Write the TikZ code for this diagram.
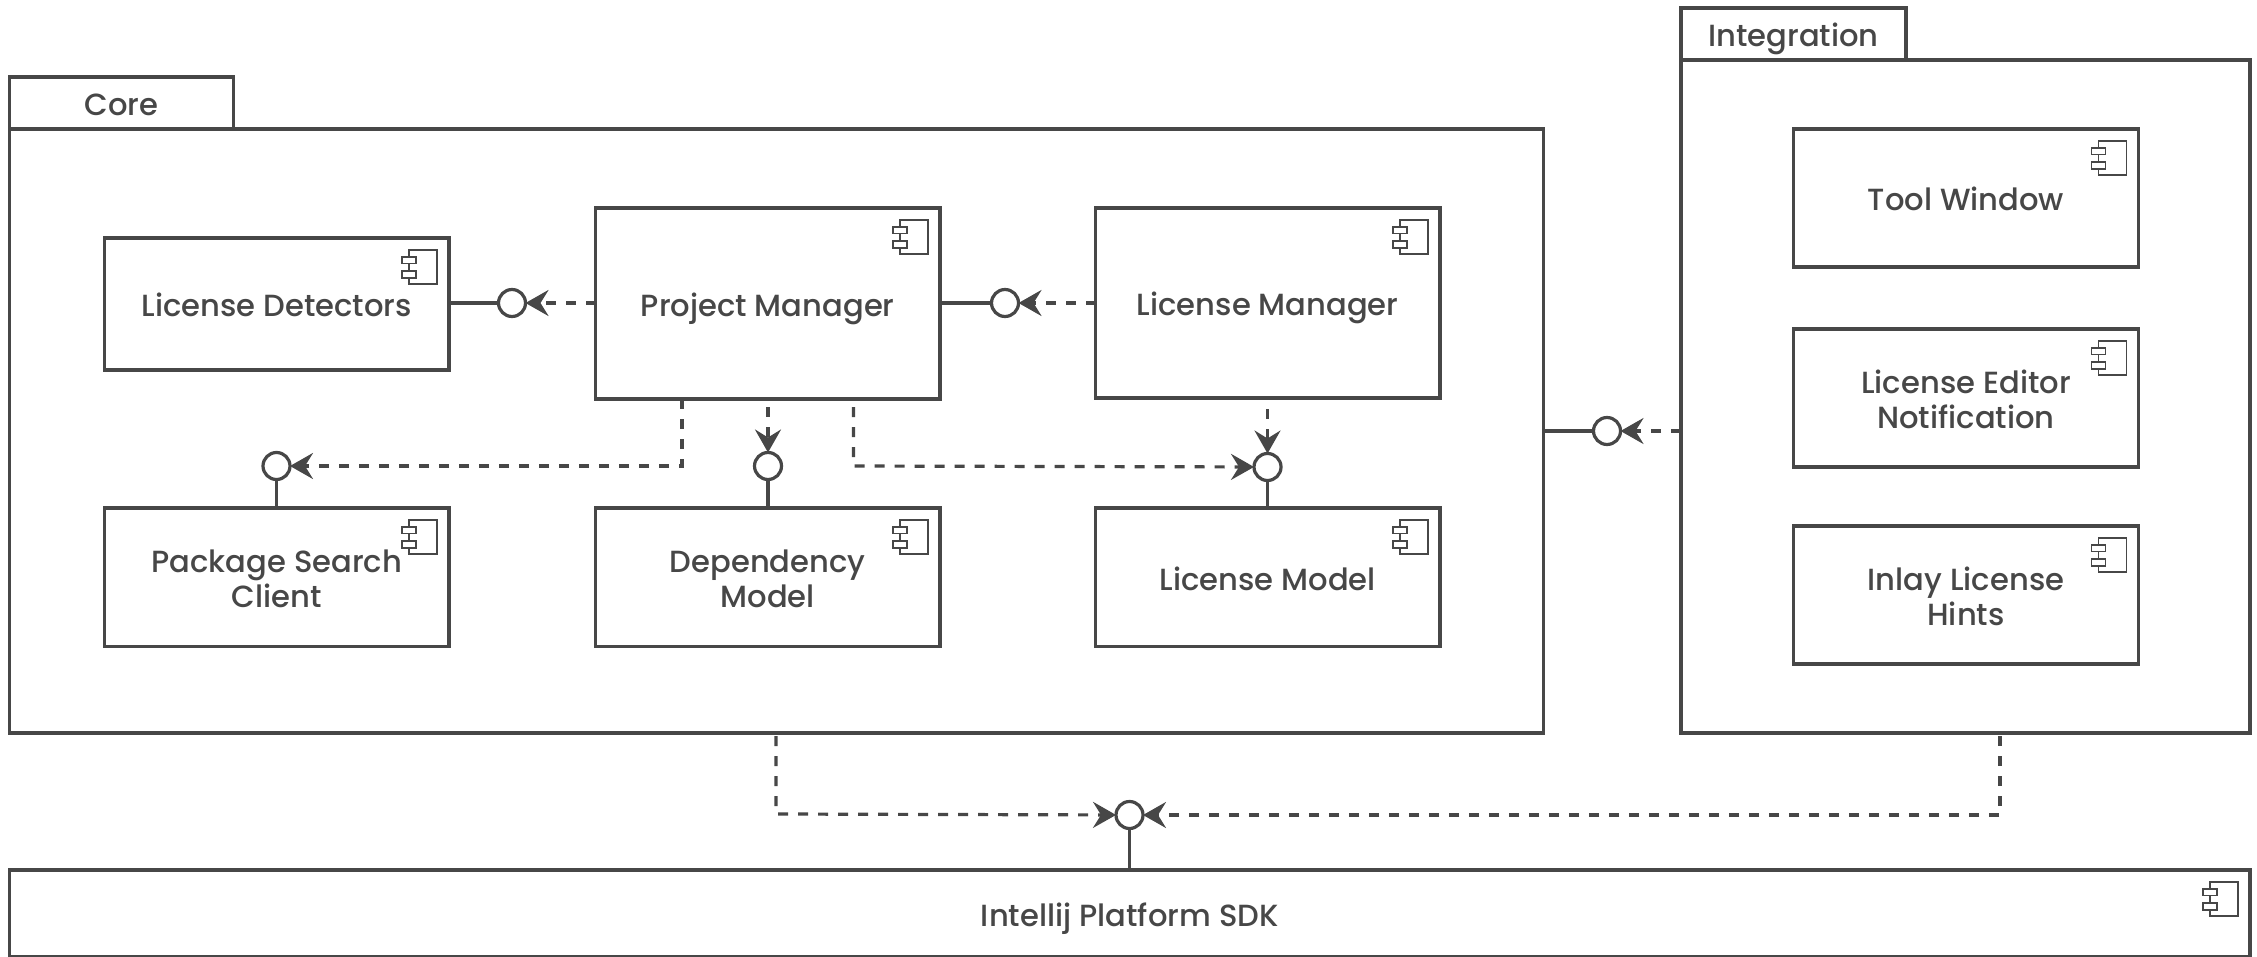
\documentclass[tikz,border=0pt]{standalone}
\usepackage{fontspec}
\setmainfont{Poppins}
\newfontfamily\labelface{Poppins Medium}
\usetikzlibrary{arrows.meta,shapes.geometric,positioning}
\definecolor{ink}{HTML}{474747}
\tikzset{
  x=0.5pt,y=-0.5pt,
  every node/.style={outer sep=0pt},
  boxnode/.style={draw=ink,line width=1.6pt,fill=white,rectangle,inner sep=0pt,text=ink,align=center,
    font=\fontsize{15.3pt}{17.5pt}\labelface\selectfont},
  iface/.style={draw=ink,line width=1.6pt,fill=white,circle,inner sep=0pt,minimum size=13.5pt},
  solidlink/.style={draw=ink,line width=1.6pt},
  deplink/.style={draw=ink,line width=1.6pt,dash pattern=on 5pt off 5pt,
    -{Stealth[length=11.5pt,width=13pt,inset=4pt,sep=0pt]}},
  iconpart/.style={draw=ink,line width=0.75pt,fill=white},
}
\newcommand{\boxat}[6]{%
  \node[boxnode,minimum width={(#4-#2)*0.5pt},minimum height={(#5-#3)*0.5pt}] (#1) at ({(#2+#4)/2},{(#3+#5)/2}) {\vphantom{\raisebox{6.5pt}{Ag}}#6\vphantom{Ag}};}
\newcommand{\compat}[6]{%
  \boxat{#1}{#2}{#3}{#4}{#5}{#6}%
  \draw[iconpart] ([xshift=-20pt,yshift=-6pt]#1.north east) rectangle ([xshift=-6pt,yshift=-23pt]#1.north east);
  \draw[iconpart] ([xshift=-23.5pt,yshift=-9.5pt]#1.north east) rectangle ([xshift=-16.5pt,yshift=-12.75pt]#1.north east);
  \draw[iconpart] ([xshift=-23.5pt,yshift=-16.5pt]#1.north east) rectangle ([xshift=-16.5pt,yshift=-20pt]#1.north east);}
\begin{document}
\begin{tikzpicture}
\useasboundingbox (0,0) rectangle (2257,957);
\begin{scope}[yshift=-0.5pt]
% packages
\boxat{coretab}{9.5}{76}{233.5}{128}{Core}
\boxat{core}{9.5}{128}{1543.5}{732}{}
\boxat{inttab}{1681}{7}{1906}{59}{Integration}
\boxat{integ}{1681}{59}{2250}{732}{}
% core components
\compat{ld}{104.5}{237}{449}{369}{License Detectors}
\compat{pm}{595.5}{207}{940}{398}{Project Manager}
\compat{lm}{1095.5}{207}{1440}{397}{License Manager}
\compat{ps}{104.5}{507}{449}{645.5}{Package Search\\Client}
\compat{dm}{595.5}{507}{940}{645.5}{Dependency\\Model}
\compat{lmo}{1095.5}{507}{1440}{645.5}{License Model}
% integration components
\compat{tw}{1793.5}{128}{2138.5}{266}{Tool Window}
\compat{le}{1793.5}{328}{2138.5}{466}{License Editor\\Notification}
\compat{il}{1793.5}{525}{2138.5}{663}{Inlay License\\Hints}
% platform
\compat{sdk}{9.5}{869}{2250}{956}{Intellij Platform SDK}
% interfaces
\node[iface] (ild) at (512,302) {};
\node[iface] (ipm) at (1005,302) {};
\node[iface] (ips) at (276.5,465) {};
\node[iface] (idm) at (768,465) {};
\node[iface] (ilm) at (1267.5,466) {};
\node[iface] (icore) at (1607,430) {};
\node[iface] (isdk) at (1129.5,814) {};
% free ends and corners
\coordinate (pmA) at (682,398);
\coordinate (pmB) at (768,406);
\coordinate (pmC) at (853.5,406);
\coordinate (pmCc) at (853.5,465);
\coordinate (lmA) at (1267.5,408);
\coordinate (coreA) at (776,735);
\coordinate (coreAc) at (776,813);
\coordinate (intA) at (2000,735);
% provided interfaces
\draw[solidlink] (ld.east |- ild) -- (ild);
\draw[solidlink] (pm.east |- ipm) -- (ipm);
\draw[solidlink] (ps.north -| ips) -- (ips);
\draw[solidlink] (dm.north -| idm) -- (idm);
\draw[solidlink] (lmo.north -| ilm) -- (ilm);
\draw[solidlink] (core.east |- icore) -- (icore);
\draw[solidlink] (sdk.north -| isdk) -- (isdk);
% dependencies
\draw[deplink] (pm.west |- ild) -- (ild);
\draw[deplink] (lm.west |- ipm) -- (ipm);
\draw[deplink] (pmA) |- (ips);
\draw[deplink] (pmB) -- (idm);
\draw[deplink] (pmC) -- (pmCc) -- (ilm);
\draw[deplink] (lmA) -- (ilm);
\draw[deplink] (integ.west |- icore) -- (icore);
\draw[deplink] (coreA) -- (coreAc) -- (isdk);
\draw[deplink] (intA) |- (isdk);
\end{scope}
\end{tikzpicture}
\end{document}
